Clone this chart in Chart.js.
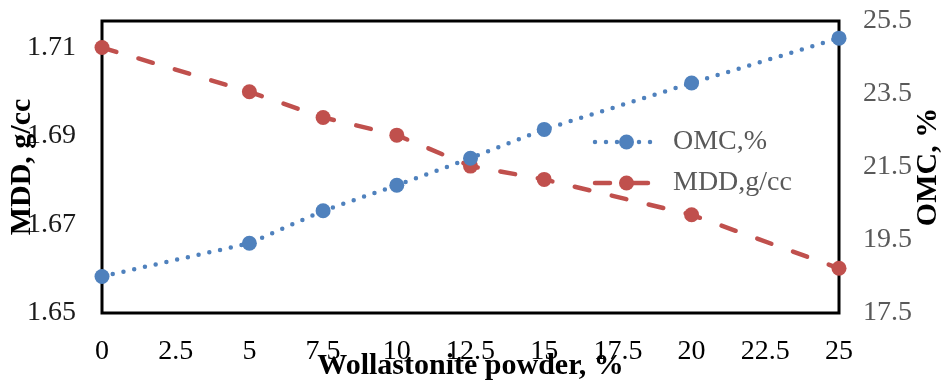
<!DOCTYPE html>
<html>
<head>
<meta charset="utf-8">
<script src="https://cdn.jsdelivr.net/npm/chart.js@4/dist/chart.umd.min.js"></script>
<style>
  html, body { margin: 0; padding: 0; background: #fff; }
  #wrap { width: 943px; height: 383px; }
</style>
</head>
<body>
<div id="wrap"><canvas id="mddChart"></canvas></div>
<script>
const powder = [0, 5, 7.5, 10, 12.5, 15, 20, 25];
const omc = [18.5, 19.41, 20.3, 21.0, 21.74, 22.53, 23.8, 25.03];
const mdd = [1.71, 1.700, 1.6942, 1.6902, 1.6832, 1.6802, 1.6722, 1.6601];
const xTicks = [0, 2.5, 5, 7.5, 10, 12.5, 15, 17.5, 20, 22.5, 25];
const mddTicks = [1.65, 1.67, 1.69, 1.71];
const omcTicks = [17.5, 19.5, 21.5, 23.5, 25.5];

const serif = "'Liberation Serif', 'Times New Roman', serif";
const blue = "#4F81BD";
const red = "#C0504D";

function pts(ys) {
    return powder.map((x, i) => ({ x: x, y: ys[i] }));
}

// frame, axis titles and legend the way the excel chart has them
const decor = {
    id: "decor",
    beforeDatasetsDraw(chart) {
        const { ctx, chartArea: a } = chart;
        ctx.save();
        ctx.strokeStyle = "#000";
        ctx.lineWidth = 3;
        ctx.strokeRect(a.left, a.top, a.right - a.left, a.bottom - a.top);
        ctx.restore();
    },
    afterDraw(chart) {
        const { ctx, chartArea: a } = chart;
        const midY = (a.top + a.bottom) / 2;
        ctx.save();
        ctx.fillStyle = "#000";
        ctx.font = "bold 30px " + serif;
        ctx.textAlign = "center";
        ctx.textBaseline = "middle";
        ctx.fillText("Wollastonite powder, %", (a.left + a.right) / 2, 366);

        ctx.save();
        ctx.translate(22, midY);
        ctx.rotate(-Math.PI / 2);
        ctx.fillText("MDD, g/cc", 0, 0);
        ctx.restore();

        ctx.save();
        ctx.translate(928, midY);
        ctx.rotate(-Math.PI / 2);
        ctx.fillText("OMC, %", 0, 0);
        ctx.restore();

        // legend
        const items = [
            { label: "OMC,%", color: blue, dash: [0, 11], y: 142 },
            { label: "MDD,g/cc", color: red, dash: [15, 23], y: 183 }
        ];
        const x0 = 595, x1 = 658;
        items.forEach(it => {
            ctx.strokeStyle = it.color;
            ctx.lineWidth = 4.5;
            ctx.lineCap = "round";
            ctx.setLineDash(it.dash);
            ctx.beginPath();
            ctx.moveTo(x0, it.y);
            ctx.lineTo(x1, it.y);
            ctx.stroke();
            ctx.setLineDash([]);
            ctx.fillStyle = it.color;
            ctx.beginPath();
            ctx.arc((x0 + x1) / 2, it.y, 7.5, 0, Math.PI * 2);
            ctx.fill();
            ctx.fillStyle = "#595959";
            ctx.font = "28px " + serif;
            ctx.textAlign = "left";
            ctx.fillText(it.label, 673, it.y);
        });
        ctx.restore();
    }
};

function noPad(s) {
    s.paddingTop = 0;
    s.paddingBottom = 0;
}

new Chart(document.getElementById("mddChart"), {
    type: "line",
    data: {
        datasets: [{
            label: "OMC,%",
            data: pts(omc),
            yAxisID: "yOmc",
            borderColor: blue,
            backgroundColor: blue,
            borderWidth: 4.5,
            borderDash: [0, 11],
            borderCapStyle: "round",
            pointRadius: 7.5,
            pointBorderWidth: 0,
            tension: 0,
            clip: false
        }, {
            label: "MDD,g/cc",
            data: pts(mdd),
            yAxisID: "yMdd",
            borderColor: red,
            backgroundColor: red,
            borderWidth: 4.5,
            borderDash: [15, 23],
            borderCapStyle: "round",
            pointRadius: 7.5,
            pointBorderWidth: 0,
            tension: 0,
            clip: false
        }]
    },
    options: {
        responsive: true,
        maintainAspectRatio: false,
        animation: false,
        layout: { padding: { top: 21, bottom: 0, left: 0, right: 0 } },
        plugins: {
            legend: { display: false },
            tooltip: { enabled: false }
        },
        scales: {
            x: {
                type: "linear",
                min: 0,
                max: 25,
                grid: { display: false },
                border: { display: false },
                afterBuildTicks: s => { s.ticks = xTicks.map(v => ({ value: v })); },
                afterFit: s => { s.height = 70; s.paddingLeft = 0; s.paddingRight = 0; },
                ticks: {
                    padding: 14,
                    maxRotation: 0,
                    autoSkip: false,
                    color: "#000",
                    font: { family: serif, size: 28 }
                }
            },
            yMdd: {
                position: "left",
                min: 1.65,
                max: 1.716,
                grid: { display: false },
                border: { display: false },
                afterBuildTicks: s => { s.ticks = mddTicks.map(v => ({ value: v })); },
                afterFit: s => { s.width = 102; noPad(s); },
                ticks: {
                    padding: 18,
                    color: "#1a1a1a",
                    font: { family: serif, size: 28 },
                    callback: v => v.toFixed(2)
                }
            },
            yOmc: {
                position: "right",
                min: 17.5,
                max: 25.5,
                grid: { display: false },
                border: { display: false },
                afterBuildTicks: s => { s.ticks = omcTicks.map(v => ({ value: v })); },
                afterFit: s => { s.width = 104; noPad(s); },
                ticks: {
                    padding: 16,
                    color: "#595959",
                    font: { family: serif, size: 28 },
                    callback: v => v.toFixed(1)
                }
            }
        }
    },
    plugins: [decor]
});
</script>
</body>
</html>
